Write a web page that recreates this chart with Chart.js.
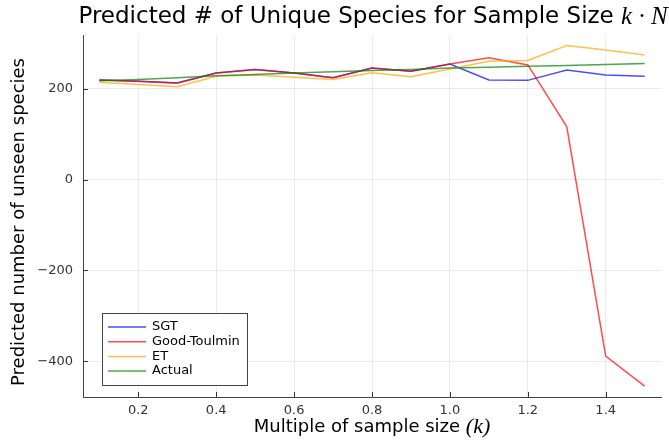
<!DOCTYPE html>
<html>
<head>
<meta charset="utf-8">
<script src="https://cdn.jsdelivr.net/npm/chart.js@4"></script>
<style>
  body { margin: 0; background: #fff; }
  #wrap { width: 669px; height: 441px; }
</style>
</head>
<body>
<div id="wrap"><canvas id="myChart" width="669" height="441"></canvas></div>
<script>
// sample size multiples k
const multiples = [0.1, 0.2, 0.3, 0.4, 0.5, 0.6, 0.7, 0.8, 0.9, 1.0, 1.1, 1.2, 1.3, 1.4, 1.5];
const sgtValues = [220, 217, 213, 235, 243, 235, 225, 246, 239, 255, 220, 219, 242, 231, 228];
const goodToulminValues = [220, 217, 213, 235, 243, 235, 225, 246, 239, 255, 269, 253, 117, -389, -455];
const etValues = [215, 210, 205, 228, 231, 226, 221, 236, 227, 244, 261, 263, 296, 286, 275];
const actualValues = [218, 221, 225, 229, 232, 235, 238, 241, 243, 246, 248, 250, 252, 254, 256];
const seriesNames = ['SGT', 'Good-Toulmin', 'ET', 'Actual'];
const xTicks = [0.2, 0.4, 0.6, 0.8, 1.0, 1.2, 1.4];
const yTicks = [-400, -200, 0, 200];

const sans = '"DejaVu Sans", sans-serif';
const mathFont = 'italic {s}px "Liberation Serif", serif';

function toPoints(vals) {
  return vals.map(function (v, i) { return { x: multiples[i], y: v }; });
}

// text with some parts in math italic
function richText(ctx, parts, size, mathScale, cx, cy, angle) {
  ctx.save();
  ctx.translate(cx, cy);
  if (angle) ctx.rotate(angle);
  ctx.textBaseline = 'middle';
  ctx.fillStyle = '#000';
  var total = 0;
  function setFont(p) {
    ctx.font = p.math ? mathFont.replace('{s}', Math.round(size * mathScale)) : size + 'px ' + sans;
  }
  parts.forEach(function (p) {
    setFont(p);
    p.w = ctx.measureText(p.t).width;
    total += p.w;
  });
  var x = -total / 2;
  parts.forEach(function (p) {
    setFont(p);
    ctx.fillText(p.t, x, 0);
    x += p.w;
  });
  ctx.restore();
}

const decor = {
  id: 'decor',
  afterDatasetsDraw(chart) {
    var ctx = chart.ctx;
    var a = chart.chartArea;
    var xs = chart.scales.x, ys = chart.scales.y;

    // inward ticks
    ctx.save();
    ctx.strokeStyle = '#333';
    ctx.lineWidth = 1;
    ctx.beginPath();
    xTicks.forEach(function (t) {
      var px = Math.round(xs.getPixelForValue(t)) + 0.5;
      ctx.moveTo(px, a.bottom);
      ctx.lineTo(px, a.bottom - 5);
    });
    yTicks.forEach(function (t) {
      var py = Math.round(ys.getPixelForValue(t)) + 0.5;
      ctx.moveTo(a.left, py);
      ctx.lineTo(a.left + 5, py);
    });
    ctx.stroke();

    // legend box
    var bx = 102.5, by = 313.5, bw = 145, bh = 72;
    ctx.fillStyle = '#fff';
    ctx.fillRect(bx, by, bw, bh);
    ctx.strokeStyle = '#444';
    ctx.strokeRect(bx, by, bw, bh);
    ctx.font = '13px ' + sans;
    ctx.textBaseline = 'middle';
    chart.data.datasets.forEach(function (ds, i) {
      var yy = 327 + i * 14.7;
      ctx.strokeStyle = ds.borderColor;
      ctx.lineWidth = 1.5;
      ctx.beginPath();
      ctx.moveTo(108, yy);
      ctx.lineTo(146, yy);
      ctx.stroke();
      ctx.fillStyle = '#000';
      ctx.fillText(ds.label, 152, yy);
    });
    ctx.restore();

    var cx = (a.left + a.right) / 2;
    richText(ctx, [{ t: 'Predicted # of Unique Species for Sample Size ' }, { t: 'k \u00b7 N', math: true }], 23, 1.1, cx + 1, 17, 0);
    richText(ctx, [{ t: 'Multiple of sample size ' }, { t: '(k)', math: true }], 18, 1.2, cx, 427, 0);
    richText(ctx, [{ t: 'Predicted number of unseen species' }], 18, 1.2, 19, 222, -Math.PI / 2);
  }
};

const colors = ['rgba(0,0,255,0.7)', 'rgba(255,0,0,0.7)', 'rgba(255,165,0,0.7)', 'rgba(0,128,0,0.7)'];
const allSeries = [sgtValues, goodToulminValues, etValues, actualValues];

var ctx = document.getElementById('myChart').getContext('2d');

var config = {
  type: 'line',
  data: {
    datasets: allSeries.map(function (vals, i) {
      return {
        label: seriesNames[i],
        data: toPoints(vals),
        borderColor: colors[i],
        backgroundColor: colors[i],
        borderWidth: 1.5,
        pointRadius: 0,
        tension: 0,
        order: 4 - i
      };
    })
  },
  options: {
    responsive: false,
    animation: false,
    layout: { padding: { top: 35, right: 8, left: 0, bottom: 0 } },
    plugins: {
      legend: { display: false },
      title: { display: false },
      tooltip: { enabled: false }
    },
    scales: {
      x: {
        type: 'linear',
        min: 0.058,
        max: 1.542,
        afterBuildTicks: function (s) { s.ticks = xTicks.map(function (v) { return { value: v }; }); },
        afterFit: function (s) { s.height = 44; },
        ticks: {
          padding: 6,
          color: '#333',
          font: { family: sans, size: 13 },
          callback: function (v) { return v.toFixed(1); }
        },
        grid: { color: 'rgba(0,0,0,0.08)', drawTicks: false },
        border: { display: true, color: '#444', width: 1 }
      },
      y: {
        type: 'linear',
        min: -479,
        max: 319,
        afterBuildTicks: function (s) { s.ticks = yTicks.map(function (v) { return { value: v }; }); },
        afterFit: function (s) { s.width = 83; },
        ticks: {
          padding: 10,
          color: '#333',
          font: { family: sans, size: 13 },
          callback: function (v) { return v < 0 ? '\u2212' + Math.abs(v) : String(v); }
        },
        grid: { color: 'rgba(0,0,0,0.08)', drawTicks: false },
        border: { display: true, color: '#444', width: 1 }
      }
    }
  },
  plugins: [decor]
};

var chart = new Chart(ctx, config);
</script>
</body>
</html>
